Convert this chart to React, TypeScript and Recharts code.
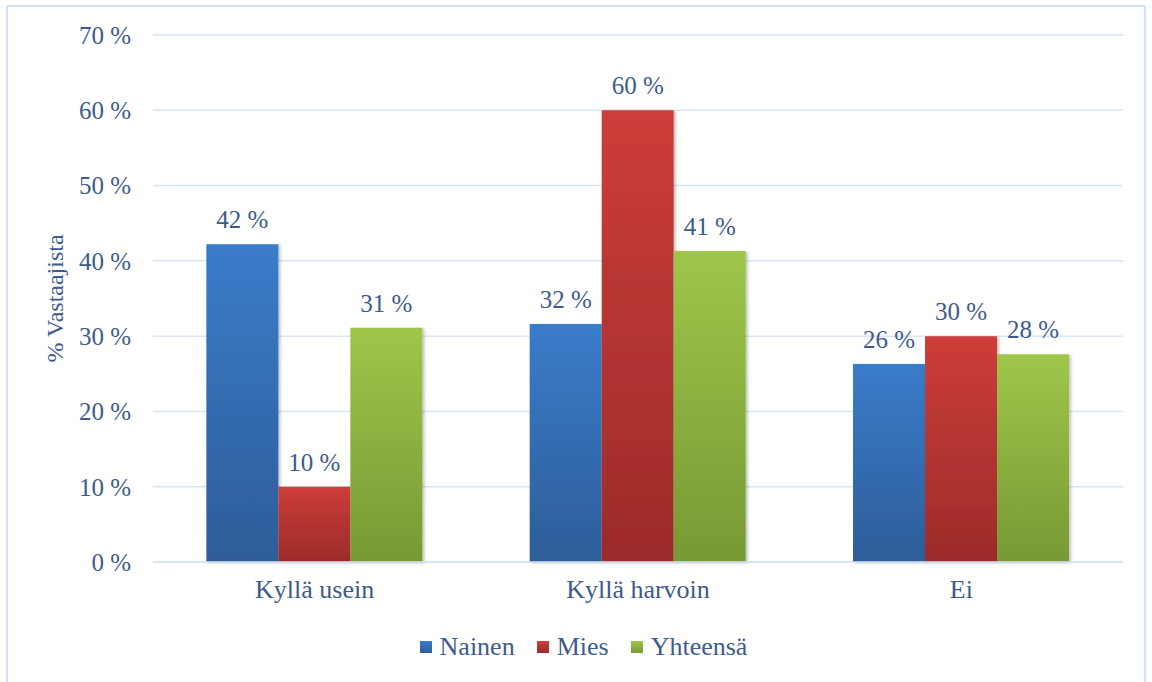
import React from 'react';
import { BarChart, Bar, XAxis, YAxis, CartesianGrid, Legend, LabelList, Label } from 'recharts';

const categories = ['Kyllä usein', 'Kyllä harvoin', 'Ei'];
const nainen = [42.2, 31.6, 26.3];
const mies = [10.0, 60.0, 30.0];
const yhteensa = [31.1, 41.3, 27.6];
const yTicks = [0, 10, 20, 30, 40, 50, 60, 70];

const seriesInfo = [
  { key: 'Nainen', name: 'Nainen', grad: 'gBlue', top: '#3a7cca', bottom: '#2d5d98' },
  { key: 'Mies', name: 'Mies', grad: 'gRed', top: '#cd3d3a', bottom: '#9b2b29' },
  { key: 'Yhteensa', name: 'Yhteensä', grad: 'gGreen', top: '#9fc64a', bottom: '#779934' },
];

const data = categories.map((c, i) => ({
  name: c,
  Nainen: nainen[i],
  Mies: mies[i],
  Yhteensa: yhteensa[i],
}));

const FONT = 'Liberation Serif, Times New Roman, DejaVu Serif, serif';
const TEXT = '#3d5b8c';
const GRID = '#d9e5f4';

const renderLegend = () => (
  <div style={{ display: 'flex', justifyContent: 'center', alignItems: 'center', fontFamily: FONT, fontSize: 26, color: TEXT, paddingLeft: 66 }}>
    {seriesInfo.map((s) => (
      <div key={s.key} style={{ display: 'flex', alignItems: 'center', marginRight: 22 }}>
        <div style={{ width: 12, height: 12, background: `linear-gradient(${s.top}, ${s.bottom})`, marginRight: 8 }} />
        <span>{s.name}</span>
      </div>
    ))}
  </div>
);

export default function App() {
  return (
    <div style={{ position: 'absolute', left: 0, top: 0, width: 1152, height: 682, background: '#fff', overflow: 'hidden', fontFamily: FONT }}>
      <div style={{ position: 'absolute', left: 6, top: 5, width: 1140, height: 700, border: '2px solid #d3e1f1', boxSizing: 'border-box' }} />
      <BarChart
        width={1152}
        height={682}
        data={data}
        margin={{ top: 35, right: 29, left: 0, bottom: 10 }}
        barCategoryGap="16.5%"
        barGap={0}
        style={{ fontFamily: FONT }}
      >
        <defs>
          {seriesInfo.map((s) => (
            <linearGradient key={s.grad} id={s.grad} x1="0" y1="0" x2="0" y2="1">
              <stop offset="0%" stopColor={s.top} />
              <stop offset="100%" stopColor={s.bottom} />
            </linearGradient>
          ))}
          <filter id="shadow" x="-10%" y="-10%" width="130%" height="120%">
            <feDropShadow dx="2" dy="1" stdDeviation="1.5" floodColor="#000" floodOpacity="0.25" />
          </filter>
        </defs>
        <CartesianGrid vertical={false} stroke={GRID} strokeWidth={1.5} />
        <XAxis
          dataKey="name"
          height={70}
          tickLine={false}
          axisLine={{ stroke: GRID, strokeWidth: 1.5 }}
          tickMargin={12}
          tick={{ fill: TEXT, fontSize: 26, fontFamily: FONT }}
        />
        <YAxis
          width={153}
          domain={[0, 70]}
          ticks={yTicks}
          interval={0}
          tickLine={false}
          axisLine={false}
          tickSize={0}
          tickMargin={22}
          tickFormatter={(v: number) => `${v} %`}
          tick={{ fill: TEXT, fontSize: 25, fontFamily: FONT }}
        >
          <Label value="% Vastaajista" angle={-90} position="center" dx={-22} style={{ fill: TEXT, fontSize: 24, fontFamily: FONT }} />
        </YAxis>
        <Legend verticalAlign="bottom" height={40} content={renderLegend} />
        {seriesInfo.map((s) => (
          <Bar key={s.key} dataKey={s.key} name={s.name} fill={`url(#${s.grad})`} isAnimationActive={false} style={{ filter: 'url(#shadow)' }}>
            <LabelList
              dataKey={s.key}
              position="top"
              offset={16}
              formatter={(v: number) => `${Math.round(v)} %`}
              style={{ fill: TEXT, fontSize: 25, fontFamily: FONT }}
            />
          </Bar>
        ))}
      </BarChart>
    </div>
  );
}
